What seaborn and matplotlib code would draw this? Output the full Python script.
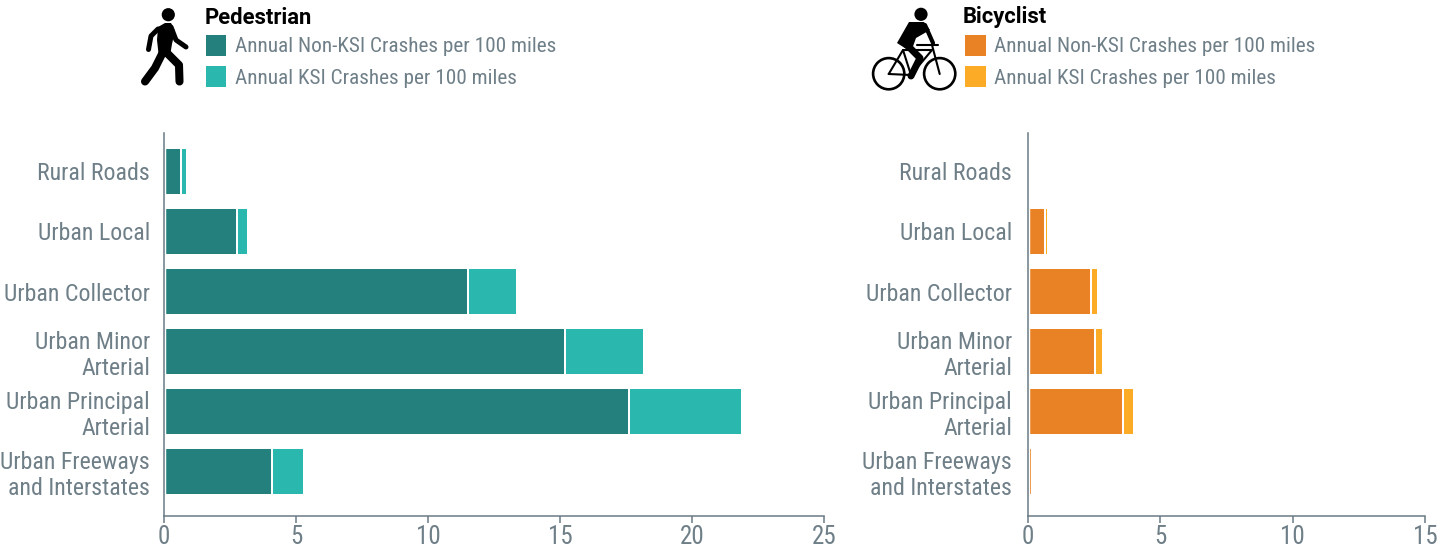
"""Crash rates per 100 miles by road type, pedestrian and bicyclist panels."""

import matplotlib.pyplot as plt
from matplotlib.patches import Circle, Polygon, Rectangle
from matplotlib import font_manager
import numpy as np
import seaborn as sns

# =============================================================================
# DATA
# =============================================================================

ROAD_TYPES = ['Rural Roads', 'Urban Local', 'Urban Collector', 'Urban Minor\nArterial',
              'Urban Principal\nArterial', 'Urban Freeways\nand Interstates']

PED_NON_KSI = [0.66, 2.78, 11.50, 15.20, 17.60, 4.10]
PED_KSI = [0.22, 0.39, 1.88, 3.00, 4.30, 1.20]

BIKE_NON_KSI = [0.0, 0.64, 2.38, 2.53, 3.59, 0.14]
BIKE_KSI = [0.0, 0.10, 0.26, 0.30, 0.40, 0.02]

PED_TICKS = [0, 5, 10, 15, 20, 25]
BIKE_TICKS = [0, 5, 10, 15]

NON_KSI_LABEL = 'Annual Non-KSI Crashes per 100 miles'
KSI_LABEL = 'Annual KSI Crashes per 100 miles'

GREY = '#6f7f88'
AXIS_GREY = '#6b7a84'
W, H = 1455, 548

sns.set_theme(style='white')
installed = {f.name for f in font_manager.fontManager.ttflist}
narrow = [n for n in ['Roboto Condensed', 'Liberation Sans Narrow', 'Roboto'] if n in installed]
plt.rcParams['font.family'] = narrow + ['DejaVu Sans']


def draw_panel(fig, x0, x1, non_ksi, ksi, dark, light, ticks, xmax, label_pad):
    """One stacked horizontal bar panel, x0/x1 are pixel positions of the axis."""
    ax = fig.add_axes([x0 / W, 1 - 515.5 / H, (x1 - x0) / W, 382.5 / H])
    total = np.array(non_ksi) + np.array(ksi)

    # Totals first, the non-KSI part goes on top of them
    sns.barplot(x=total, y=ROAD_TYPES, color=light, saturation=1, width=0.783,
                edgecolor='white', linewidth=1.44, ax=ax, orient='h')
    sns.barplot(x=non_ksi, y=ROAD_TYPES, color=dark, saturation=1, width=0.783,
                edgecolor='white', linewidth=1.44, ax=ax, orient='h')

    # The bars stand a little off the axis line
    ax.axvline(0, color='white', lw=3.2, zorder=2)

    ax.set_xlim(0, xmax)
    ax.set_ylim(5.73, -0.64)
    ax.set_xticks(ticks)
    ax.tick_params(axis='x', length=5, width=1.1, color=AXIS_GREY, labelcolor=GREY,
                   labelsize=18, pad=2, bottom=True)
    ax.tick_params(axis='y', length=0, labelcolor=GREY, labelsize=17.2, pad=label_pad)
    for label in ax.get_yticklabels():
        label.set_linespacing(1.17)
    sns.despine(ax=ax)
    for side in ['left', 'bottom']:
        ax.spines[side].set_color(AXIS_GREY)
        ax.spines[side].set_linewidth(1.1)
    ax.set_xlabel('')
    ax.set_ylabel('')
    return ax


def draw_legend(ov, x_title, x_box, x_text, title, dark, light):
    ov.text(x_title, 17.5, title, fontsize=15.8, fontweight='bold', color='black',
            family=['Roboto', 'DejaVu Sans'], va='center', ha='left')
    ov.add_patch(Rectangle((x_box, 35), 20.5, 20.5, color=dark, lw=0))
    ov.add_patch(Rectangle((x_box, 66), 20.5, 20.5, color=light, lw=0))
    ov.text(x_text, 47, NON_KSI_LABEL, fontsize=15.35, color=GREY, va='center', ha='left')
    ov.text(x_text, 78, KSI_LABEL, fontsize=15.35, color=GREY, va='center', ha='left')


def limb(ov, xs, ys, lw):
    ov.plot(xs, ys, color='black', lw=lw, solid_capstyle='round', solid_joinstyle='round')


def draw_pedestrian(ov):
    ov.add_patch(Circle((168.3, 14.7), 6.6, color='black', lw=0))
    ov.add_patch(Polygon([(158, 27), (165, 23), (171, 23), (175, 31), (172, 44), (170, 56),
                          (159, 58), (157, 40)], closed=True, color='black', lw=0))
    limb(ov, [158, 151, 148.5], [29, 36, 49.5], 3.6)
    limb(ov, [171, 176, 186], [27, 40, 47], 3.6)
    limb(ov, [162, 155, 145], [54, 68, 81.5], 5.8)
    limb(ov, [166, 179, 179.5], [52, 65, 81.5], 5.8)


def draw_bicyclist(ov):
    ov.add_patch(Circle((921, 14.3), 6.6, color='black', lw=0))
    for cx in [888.7, 939.7]:
        ov.add_patch(Circle((cx, 73.7), 15.6, fill=False, ec='black', lw=1.9))
    # torso
    ov.add_patch(Polygon([(909, 22), (924, 22), (930, 30), (916, 38), (911, 52), (897, 43)],
                         closed=True, color='black', lw=0))
    limb(ov, [925, 933], [25, 43], 3)
    limb(ov, [917, 938], [45, 45], 1.5)
    limb(ov, [906, 920, 911], [44, 58, 76], 5)
    # frame
    limb(ov, [888.7, 903, 911, 888.7], [74, 50, 75, 74], 1.5)
    limb(ov, [903, 932, 911], [50, 50, 75], 1.5)
    limb(ov, [932, 939.7], [45, 74], 1.5)


def main():
    fig = plt.figure(figsize=(W / 100, H / 100), dpi=100, facecolor='white')

    draw_panel(fig, 164, 824, PED_NON_KSI, PED_KSI, '#23807c', '#2ab7ad', PED_TICKS, 25, 10)
    draw_panel(fig, 1028, 1425, BIKE_NON_KSI, BIKE_KSI, '#e88224', '#fbab25', BIKE_TICKS, 15, 11.5)

    # Overlay in pixel coordinates for the legends and the icons
    ov = fig.add_axes([0, 0, 1, 1], facecolor='none')
    ov.set_xlim(0, W)
    ov.set_ylim(H, 0)
    ov.axis('off')

    draw_pedestrian(ov)
    draw_bicyclist(ov)
    draw_legend(ov, 205, 205.5, 235, 'Pedestrian', '#23807c', '#2ab7ad')
    draw_legend(ov, 963, 965, 994.5, 'Bicyclist', '#e88224', '#fbab25')

    fig.savefig('out.png', dpi=100)


if __name__ == '__main__':
    main()
